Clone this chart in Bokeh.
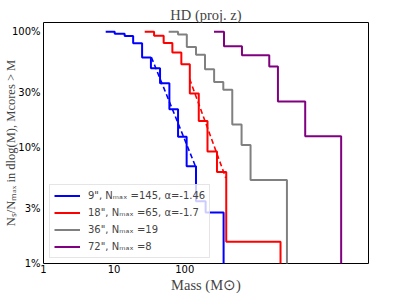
import numpy as np
from bokeh.plotting import figure
from bokeh.models import Range1d, FixedTicker, Legend, LegendItem
from bokeh.embed import file_html
from bokeh.resources import INLINE

# ---- data ----
# step curves: first mass = start of the curve, later masses = where the count drops
blue_mass = [7.6, 10.2, 14.1, 18.6, 24.9, 33.2, 44.7, 60.6, 80.4, 106.4, 144.5, 197.6, 355]
blue_count = [145, 139, 133, 115, 87, 70, 52, 31, 18, 10, 5, 4, 0]
blue_nmax = 145

red_mass = [27.1, 36.8, 50.3, 66.8, 89.5, 118, 158, 210, 286, 387, 2271]
red_count = [65, 60, 52, 43, 34, 19, 11, 6, 4, 1, 0]
red_nmax = 65

gray_mass = [59.2, 80.4, 107, 144.5, 193.7, 260.6, 351.6, 471, 638, 855, 2800]
gray_count = [19, 18, 14, 12, 9, 7, 6, 3, 2, 1, 0]
gray_nmax = 19

purple_mass = [259.6, 359.6, 646, 1573, 2088, 5079, 16400]
purple_count = [8, 6, 5, 4, 2, 1, 0]
purple_nmax = 8

# power-law fits (end points)
blue_fit_mass = [33.7, 142.6]
blue_fit_frac = [0.602, 0.0684]
red_fit_mass = [117.3, 381.0]
red_fit_frac = [0.391, 0.0547]

labels = ['9", Nₘₐₓ =145, α=-1.46',
          '18", Nₘₐₓ =65, α=-1.7',
          '36", Nₘₐₓ =19',
          '72", Nₘₐₓ =8']
y_ticks = [0.01, 0.03, 0.1, 0.3, 1.0]
y_tick_labels = ["1%", "3%", "10%", "30%", "100%"]
x_ticks = [1, 10, 100]
x_tick_labels = ["1", "10", "100"]


def frac(counts, nmax):
    f = np.array(counts, dtype=float) / nmax
    f[f <= 0] = 1e-4  # zero count drops below the axis
    return f


p = figure(width=407, height=295, output_backend="svg", toolbar_location=None,
           x_axis_type="log", y_axis_type="log",
           x_range=Range1d(1, 4.0e4), y_range=Range1d(0.01, 1.2),
           min_border_left=42, min_border_right=39, min_border_top=22, min_border_bottom=32)

p.title.text = "HD (proj. z)"
p.title.align = "center"
p.title.text_font = "Liberation Serif"
p.title.text_font_size = "14.5px"
p.title.text_font_style = "normal"
p.title.standoff = 0
p.title.offset = 0

p.grid.visible = False
p.outline_line_color = "black"
p.outline_line_width = 1
p.outline_line_alpha = 1

for ax in (p.xaxis[0], p.yaxis[0]):
    ax.axis_line_color = None
    ax.major_tick_in = 0
    ax.major_tick_out = 0
    ax.minor_tick_in = 0
    ax.minor_tick_out = 0
    ax.major_label_text_font = "DejaVu Sans"
    ax.major_label_text_font_size = "10px"
    ax.major_label_text_color = "black"

p.yaxis[0].ticker = FixedTicker(ticks=y_ticks)
p.yaxis[0].major_label_overrides = {t: l for t, l in zip(y_ticks, y_tick_labels)}
p.yaxis[0].major_label_standoff = 3
p.yaxis[0].axis_label = "Nₛ/Nₘₐₓ in dlog(M), Mcores > M"
p.yaxis[0].axis_label_text_font = "Liberation Serif"
p.yaxis[0].axis_label_text_font_size = "12.5px"
p.yaxis[0].axis_label_text_font_style = "normal"
p.yaxis[0].axis_label_standoff = -9

p.xaxis[0].ticker = FixedTicker(ticks=x_ticks)
p.xaxis[0].major_label_overrides = {t: l for t, l in zip(x_ticks, x_tick_labels)}
p.xaxis[0].major_label_standoff = 1
p.xaxis[0].axis_label = "Mass (M⊙)"
p.xaxis[0].axis_label_text_font = "Liberation Serif"
p.xaxis[0].axis_label_text_font_size = "14.5px"
p.xaxis[0].axis_label_text_font_style = "normal"
p.xaxis[0].axis_label_standoff = 1

series = [
    (blue_mass, frac(blue_count, blue_nmax), "#0000ff"),
    (red_mass, frac(red_count, red_nmax), "#ff0000"),
    (gray_mass, frac(gray_count, gray_nmax), "#808080"),
    (purple_mass, frac(purple_count, purple_nmax), "#800080"),
]
renderers = []
for m, f, c in series:
    r = p.step(m, f, mode="after", line_color=c, line_width=2)
    renderers.append(r)

p.line(blue_fit_mass, blue_fit_frac, line_color="#0000ff", line_width=1.6, line_dash="5 3")
p.line(red_fit_mass, red_fit_frac, line_color="#ff0000", line_width=1.6, line_dash="5 3")

legend = Legend(items=[LegendItem(label=l, renderers=[r]) for l, r in zip(labels, renderers)],
                location=(6, 5))
legend.label_text_font = "DejaVu Sans"
legend.label_text_font_size = "10px"
legend.glyph_width = 26
legend.glyph_height = 13
legend.label_height = 13
legend.label_standoff = 8
legend.padding = 4
legend.spacing = 4
legend.margin = 0
legend.border_line_color = "#cccccc"
legend.border_line_width = 1
legend.background_fill_alpha = 0.8
p.add_layout(legend, "center")

open("out.html", "w").write(file_html(p, INLINE))
